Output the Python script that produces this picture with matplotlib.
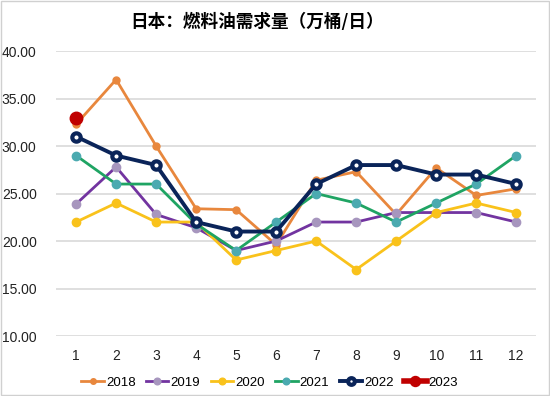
import matplotlib
matplotlib.use("Agg")
import matplotlib.pyplot as plt
from matplotlib.ticker import FormatStrFormatter

plt.rcParams['font.family'] = ['Liberation Sans', 'Noto Sans CJK SC', 'DejaVu Sans']

months = [1, 2, 3, 4, 5, 6, 7, 8, 9, 10, 11, 12]
y2018 = [32.3, 37.0, 30.0, 23.4, 23.3, 19.6, 26.4, 27.3, 22.8, 27.7, 24.8, 25.5]
y2019 = [23.9, 27.8, 22.8, 21.4, 19.0, 20.0, 22.0, 22.0, 23.0, 23.0, 23.0, 22.0]
y2020 = [22.0, 24.0, 22.0, 22.0, 18.0, 19.0, 20.0, 17.0, 20.0, 23.0, 24.0, 23.0]
y2021 = [29.0, 26.0, 26.0, 21.8, 19.0, 22.0, 25.0, 24.0, 22.0, 24.0, 26.0, 29.0]
y2022 = [31.0, 29.0, 28.0, 22.0, 21.0, 21.0, 26.0, 28.0, 28.0, 27.0, 27.0, 26.0]
months2023 = [1]
y2023 = [33.0]

fig = plt.figure(figsize=(5.5, 3.96), dpi=100)
ax = fig.add_axes([0.102, 0.1515, 0.873, 0.7195])

ax.plot(months, y2018, color='#E8873D', lw=2.0, marker='o', ms=5,
        mfc='#E8873D', mec='#E8873D', label='2018', zorder=3)
ax.plot(months, y2019, color='#7234A0', lw=2.0, marker='o', ms=6,
        mfc='#A796BE', mec='#A796BE', label='2019', zorder=3)
ax.plot(months, y2020, color='#F9C21B', lw=2.0, marker='o', ms=6,
        mfc='#F9C21B', mec='#F9C21B', label='2020', zorder=3)
ax.plot(months, y2021, color='#1FA463', lw=2.0, marker='o', ms=6,
        mfc='#4BAAB0', mec='#4BAAB0', label='2021', zorder=3)
ax.plot(months, y2022, color='#0A2459', lw=2.8, marker='o', ms=6,
        mfc='white', mec='#0A2459', mew=3.0, label='2022', zorder=4)
ax.plot(months2023, y2023, color='#C00000', lw=4, marker='o', ms=9,
        mfc='#C00000', mec='#C00000', label='2023', zorder=5)

ax.set_xlim(0.5, 12.5)
ax.set_ylim(10, 40)
ax.set_yticks([10, 15, 20, 25, 30, 35, 40])
ax.yaxis.set_major_formatter(FormatStrFormatter('%.2f'))
ax.set_xticks(months)
ax.grid(axis='y', color='#D9D9D9', lw=1.2)
ax.set_axisbelow(True)
for s in ax.spines.values():
    s.set_visible(False)
ax.tick_params(length=0, labelsize=10, colors='#222222')
ax.tick_params(axis='x', pad=9)
ax.tick_params(axis='y', pad=14)

fig.text(0.468, 0.945, '日本：燃料油需求量（万桶/日）', ha='center', va='center',
         fontsize=12.7, fontweight='bold', family=['Noto Sans CJK SC', 'DejaVu Sans'])

ax.legend(loc='upper center', bbox_to_anchor=(0.445, -0.1), ncol=6, frameon=False,
          fontsize=9.5, handlelength=1.7, handletextpad=0.15, columnspacing=0.8,
          markerscale=0.8)

border = plt.Rectangle((0.002, 0.002), 0.996, 0.996, transform=fig.transFigure,
                       fill=False, ec='#D0D0D0', lw=1)
fig.patches.append(border)

fig.savefig('out.png', dpi=100)
